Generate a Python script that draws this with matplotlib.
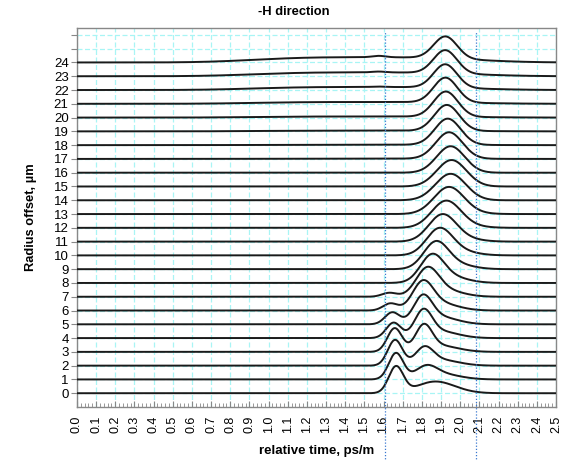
import numpy as np
import matplotlib
matplotlib.use("Agg")
from matplotlib import pyplot as plt
from matplotlib.ticker import MultipleLocator

plt.rcParams['font.family'] = ['Liberation Sans', 'DejaVu Sans']

# radial offsets of the launch, one trace each
offsets = list(range(25))

# early mode group (~1.66 ps/m)
early_amp = [1.9, 1.9, 1.85, 1.7, 1.1, 0.85, 0.5, 0.28] + [0.0] * 17
early_t = [1.665, 1.665, 1.66, 1.658, 1.652, 1.645, 1.635, 1.63] + [1.63] * 17
early_w = 0.038

# main mode group
main_amp = [0.62, 0.78, 1.12, 1.72, 1.78, 1.78, 1.82, 1.82, 1.78, 1.75, 1.75, 1.8, 1.85,
            1.9, 1.92, 1.92, 1.92, 1.92, 1.9, 1.88, 1.83, 1.8, 1.7, 1.68, 1.6]
main_t = [1.85, 1.822, 1.813, 1.81, 1.808, 1.805, 1.805, 1.828, 1.852, 1.872, 1.89,
          1.905, 1.925, 1.94, 1.95, 1.955, 1.95, 1.942, 1.935, 1.93, 1.925, 1.923,
          1.922, 1.922, 1.923]
main_w = [0.09, 0.055, 0.046, 0.043, 0.045, 0.048, 0.053, 0.058, 0.06, 0.063, 0.067,
          0.071, 0.075, 0.078, 0.079, 0.077, 0.073, 0.07, 0.067, 0.065, 0.063, 0.062,
          0.061, 0.061, 0.061]

# slow trailing energy behind the main group
tail_amp = [0.3, 0.38, 0.42, 0.45, 0.5, 0.55, 0.55, 0.5, 0.48, 0.42, 0.36, 0.28, 0.18, 0.1] + [0.0] * 11
tail_shift = 0.08
tail_w = 0.095

# background on the outer offsets
bg_amp = [0.0] * 17 + [0.02, 0.03, 0.05, 0.08, 0.13, 0.22, 0.28, 0.38]
bump_amp = [0.0] * 22 + [0.03, 0.06, 0.1]

mask_lo, mask_hi = 1.605, 2.085

t = np.linspace(0, 2.5, 1251)


def gauss(a, c, w):
    return a * np.exp(-0.5 * ((t - c) / w) ** 2)


fig = plt.figure(figsize=(5.61, 4.61), dpi=100)
ax = fig.add_axes([77 / 561, 54 / 461, 479 / 561, 379 / 461])

for i in offsets:
    y = (gauss(early_amp[i], early_t[i], early_w)
         + gauss(main_amp[i], main_t[i], main_w[i])
         + gauss(tail_amp[i], main_t[i] + tail_shift, tail_w)
         + bg_amp[i] * np.exp(-0.5 * np.abs((t - 1.5) / 0.52) ** 3)
         + gauss(bump_amp[i], 1.575, 0.035))
    ax.plot(t, i + y, color='#1a1a1a', lw=1.4, zorder=3)

for xv in (mask_lo, mask_hi):
    ax.axvline(xv, ymin=-0.145, ymax=0.99, color='#3a78d0', ls=(0, (1, 1.5)),
               lw=0.9, clip_on=False, zorder=4)

ax.set_xlim(0, 2.5)
ax.set_ylim(-1, 26.5)
ax.xaxis.set_major_locator(MultipleLocator(0.1))
ax.xaxis.set_minor_locator(MultipleLocator(0.02))
ax.set_xticklabels(['%.1f' % v for v in ax.get_xticks()], rotation=90, fontsize=9)
ax.set_yticks(range(0, 27))
ax.set_yticklabels([str(v) if v <= 24 else '' for v in range(0, 27)], fontsize=9.5)

ax.grid(True, which='major', color='#a8f5f5', ls=(0, (4, 2)), lw=0.9, zorder=0)
ax.tick_params(axis='x', which='major', direction='in', length=4, color='#888888', pad=6)
ax.tick_params(axis='x', which='minor', direction='in', length=3, color='#888888')
ax.tick_params(axis='y', direction='out', length=4, color='#888888', pad=2)
for s in ax.spines.values():
    s.set_color('#888888')
    s.set_linewidth(1.0)

ax.set_xlabel('relative time, ps/m', fontsize=9.5, fontweight='bold', labelpad=9)
ax.set_ylabel('Radius offset, µm', fontsize=9.3, fontweight='bold', labelpad=12)
fig.text(294 / 561, 1 - 12 / 461, '-H direction', ha='center', va='center',
         fontsize=9.3, fontweight='bold')

plt.savefig('out.png')
